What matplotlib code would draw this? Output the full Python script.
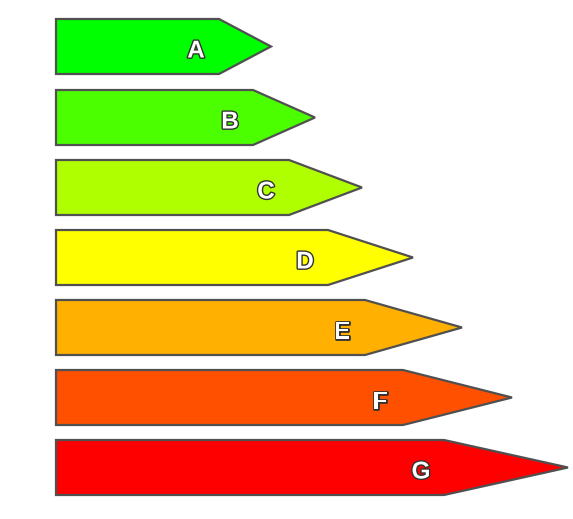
import matplotlib
matplotlib.use('Agg')
import matplotlib.pyplot as plt
from matplotlib.patches import Polygon
import matplotlib.patheffects as pe

# energy classes, body length and tip position (pixels)
labels = ['A', 'B', 'C', 'D', 'E', 'F', 'G']
body_end = [219, 253, 289, 328, 365, 403, 444]
tip_end = [271, 315, 362, 413, 462, 512, 568]
row_top = [19, 90, 160, 230, 300, 370, 440]
colors = ['#00ff00', '#4cff00', '#b0ff00', '#ffff00', '#ffb000', '#ff5000', '#ff0000']

x0 = 56
h = 55

fig = plt.figure(figsize=(5.73, 5.19), dpi=100)
ax = fig.add_axes([0, 0, 1, 1])
ax.set_xlim(0, 573)
ax.set_ylim(519, 0)
ax.axis('off')

for lab, be, te, top, c in zip(labels, body_end, tip_end, row_top, colors):
    mid = top + h / 2
    pts = [(x0, top), (be, top), (te, mid), (be, top + h), (x0, top + h)]
    ax.add_patch(Polygon(pts, closed=True, facecolor=c, edgecolor='#505050', linewidth=1.6))
    t = ax.text(be - 23, mid + 4.5, lab, ha='center', va='center', color='white',
                fontsize=17.5, fontweight='bold', family='Liberation Sans')
    t.set_path_effects([pe.withStroke(linewidth=2.0, foreground='#333333')])

fig.savefig('out.png', dpi=100)
